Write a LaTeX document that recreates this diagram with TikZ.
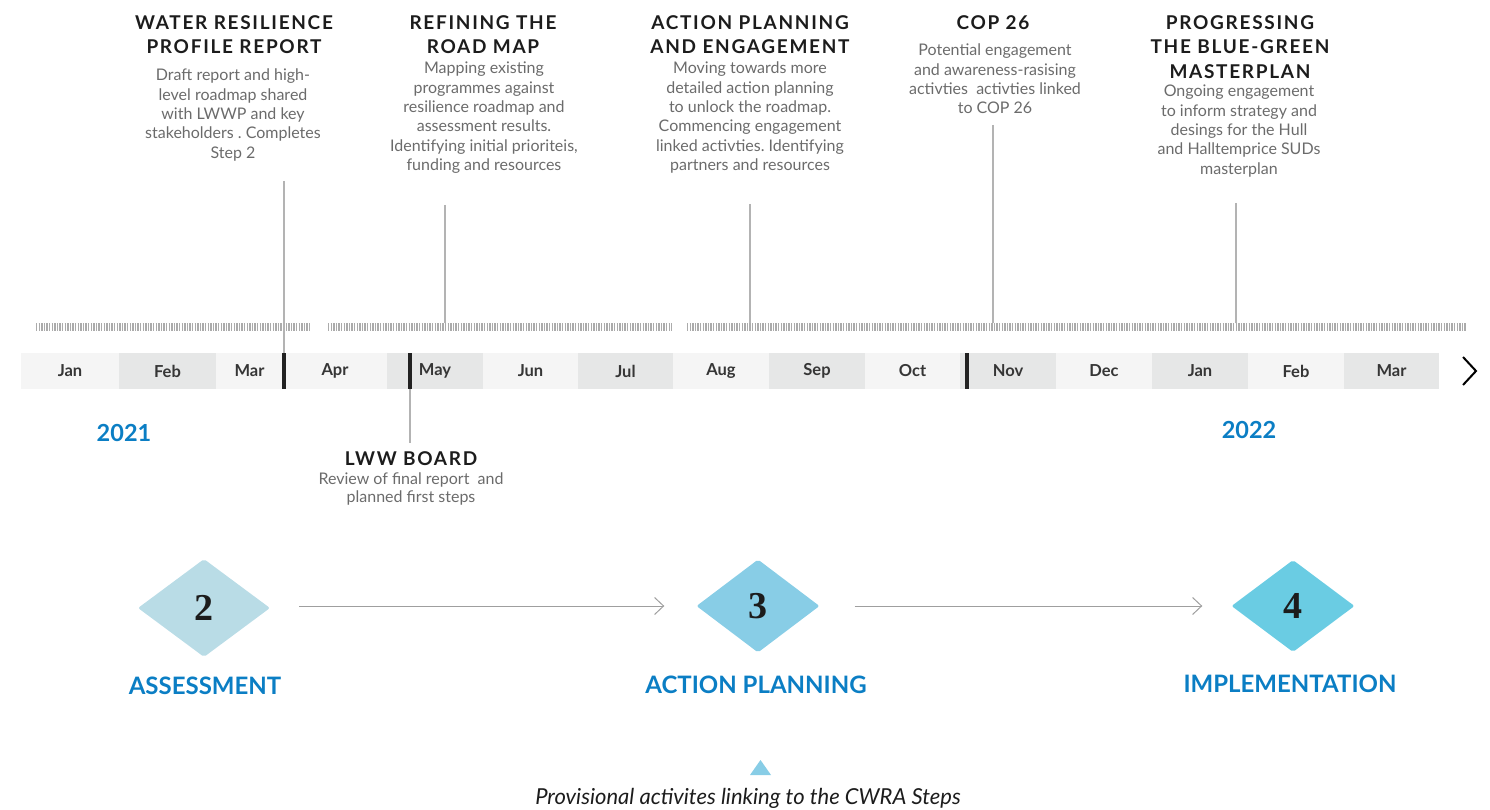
\documentclass[tikz,border=0pt]{standalone}
\usepackage{fontspec}
\setmainfont{Lato}
\newfontfamily\headfont{Lato}[LetterSpace=9]
\newfontfamily\numfont{Liberation Serif}
\usetikzlibrary{shapes.geometric,arrows.meta}
\definecolor{stepblue}{HTML}{0B7EC4}
\definecolor{headgray}{HTML}{1C1C1C}
\definecolor{descgray}{HTML}{6B6B6B}
\definecolor{monthgray}{HTML}{363636}
\definecolor{cellpale}{HTML}{F5F5F5}
\definecolor{celldark}{HTML}{E6E7E7}
\definecolor{linegray}{HTML}{B3B3B3}
\definecolor{hatchgray}{HTML}{ABABAB}
\definecolor{markblack}{HTML}{222222}
\definecolor{stepa}{HTML}{B9DCE6}
\definecolor{stepb}{HTML}{88CDE6}
\definecolor{stepc}{HTML}{6ACCE3}
\frenchspacing

\begin{document}
\begin{tikzpicture}[x=1pt, y=-1pt,
  head/.style={anchor=north, align=center, inner sep=0pt, text=headgray,
    font=\headfont\bfseries\fontsize{19}{24.5}\selectfont},
  desc/.style={anchor=north, align=center, inner sep=0pt, text=descgray,
    font=\fontsize{16}{19.3}\selectfont},
  month/.style={inner sep=0pt, text=monthgray, font=\bfseries\fontsize{16.5}{18}\selectfont},
  year/.style={inner sep=0pt, text=stepblue, font=\bfseries\fontsize{23.5}{26}\selectfont},
  hatch/.style={draw=hatchgray, line width=8pt, dash pattern=on 1.4pt off 1.2pt},
  link/.style={draw=linegray, line width=1.3pt},
  stepmark/.style={diamond, inner sep=0pt, rounded corners=2pt, text=headgray,
    font=\numfont\bfseries\fontsize{38}{38}\selectfont},
  steplabel/.style={inner sep=0pt, text=stepblue, font=\bfseries\fontsize{24}{26}\selectfont},
  flow/.style={draw=gray!75, line width=1pt, -{Straight Barb[length=9pt,width=17pt]}}]
  \useasboundingbox (0,0) rectangle (1490,810);

  % month strip
  \foreach \a/\b/\l/\c [count=\i] in {21/119/Jan/cellpale, 119/216/Feb/celldark,
      216/283/Mar/cellpale, 283/387/Apr/cellpale, 387/483/May/celldark,
      483/578/Jun/cellpale, 578/673/Jul/celldark, 673/769/Aug/cellpale,
      769/865/Sep/celldark, 865/960/Oct/cellpale, 960/1056/Nov/celldark,
      1056/1152/Dec/cellpale, 1152/1248/Jan/celldark, 1248/1344/Feb/cellpale,
      1344/1439/Mar/celldark} {
    \fill[\c] (\a,353) rectangle (\b,389);
    \node[month] (m\i) at ({(\a+\b)/2},371) {\l};
  }
  \foreach \x in {282, 408, 965} {
    \fill[markblack] (\x,353) rectangle (\x+4,389);
  }
  \draw[line width=2pt, line join=miter] (1463,357) -- (1476,371) -- (1463,385);

  % activity bars
  \draw[hatch] (36,327) -- (310,327);
  \draw[hatch] (328,327) -- (672,327);
  \draw[hatch] (687,327) -- (1466,327);

  \node[year] (y21) at (124,433) {2021};
  \node[year] (y22) at (1249,430) {2022};

  % milestones
  \node[head] (h1) at (234,15) {WATER RESILIENCE\\PROFILE REPORT};
  \node[desc] (d1) at (233,69) {Draft report and high-\\level roadmap shared\\with LWWP and key\\stakeholders . Completes\\Step 2};
  \node[head] (h2) at (483,15) {REFINING THE\\ROAD MAP};
  \node[desc] (d2) at (484,62) {Mapping existing\\programmes against\\resilience roadmap and\\assessment results.\\Identifying initial prioriteis,\\funding and resources};
  \node[head] (h3) at (750,15) {ACTION PLANNING\\AND ENGAGEMENT};
  \node[desc] (d3) at (750,62) {Moving towards more\\detailed action planning\\to unlock the roadmap.\\Commencing engagement\\linked activties. Identifying\\partners and resources};
  \node[head] (h4) at (993,15) {COP 26};
  \node[desc] (d4) at (995,44) {Potential engagement\\and awareness-rasising\\activties\ \ activties linked\\to COP 26};
  \node[head] (h5) at (1240,15) {PROGRESSING\\THE BLUE-GREEN\\MASTERPLAN};
  \node[desc] (d5) at (1239,85) {Ongoing engagement\\to inform strategy and\\desings for the Hull\\and Halltemprice SUDs\\masterplan};
  \node[head] (h6) at (411,451) {LWW BOARD};
  \node[desc, font=\fontsize{16}{18.5}\selectfont] (d6) at (411,472.5) {Review of final report\ \ and\\planned first steps};

  \coordinate (p1) at (284,181);  \coordinate (q1) at (284,353);
  \coordinate (p2) at (445,205);  \coordinate (q2) at (445,323);
  \coordinate (p3) at (750,204);  \coordinate (q3) at (750,323);
  \coordinate (p4) at (993,125);  \coordinate (q4) at (993,323);
  \coordinate (p5) at (1236,203); \coordinate (q5) at (1236,323);
  \coordinate (p6) at (410,389);  \coordinate (q6) at (410,443);
  \foreach \i in {1,...,6} {
    \draw[link] (p\i) -- (q\i);
  }

  % CWRA steps
  \node[stepmark, fill=stepa, minimum width=132pt, minimum height=98pt] (s2) at (204,608) {2};
  \node[stepmark, fill=stepb, minimum width=123pt, minimum height=93pt] (s3) at (758,606) {3};
  \node[stepmark, fill=stepc, minimum width=123pt, minimum height=92pt] (s4) at (1293,606) {4};
  \draw[flow, shorten <=29pt, shorten >=32pt] (s2.east |- s3) -- (s3.west);
  \draw[flow, shorten <=35pt, shorten >=29pt] (s3.east) -- (s4.west);
  \node[steplabel] (l2) at (205,686) {ASSESSMENT};
  \node[steplabel] (l3) at (756,685) {ACTION PLANNING};
  \node[steplabel] (l4) at (1290,684) {IMPLEMENTATION};

  \fill[stepb] (750,775) -- (760.5,760) -- (771,775) -- cycle;
  \node[inner sep=0pt, text=headgray, font=\itshape\fontsize{22}{24}\selectfont] (cap) at (748,798) {Provisional activites linking to the CWRA Steps};
\end{tikzpicture}
\end{document}
